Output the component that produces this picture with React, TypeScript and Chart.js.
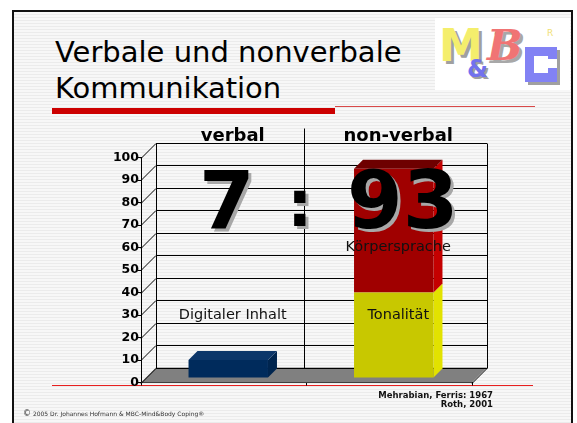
import React, { useEffect, useRef } from "react";
import { Chart, registerables } from "chart.js";

Chart.register(...registerables);

// ---- data ----
const categories = ["verbal", "non-verbal"];
const seriesNames = ["Digitaler Inhalt", "Tonalität", "Körpersprache"];
const digitalValues: (number | null)[] = [8, null];
const toneValues: (number | null)[] = [null, 38];
const bodyValues: (number | null)[] = [null, 55];
const yMin = 0;
const yMax = 100;
const yStep = 10;
const ratioLeft = "7";
const ratioSep = ":";
const ratioRight = "93";
const sourceLines = ["Mehrabian, Ferris: 1967", "Roth, 2001"];

// ---- style ----
const FONT = "'DejaVu Sans', 'Noto Sans', sans-serif";
const faceColors = [
  { front: "#002b5c", top: "#0c3669", side: "#00254f" },
  { front: "#c8c800", top: "#dcdc00", side: "#e2e200" },
  { front: "#a00000", top: "#6e0000", side: "#c40000" },
];
const labelLevels = [30, 30, 60];
const WALL = 15;
const BAR_DEPTH = 9;
const BAR_SHIFT = 4.5;

function poly(ctx: CanvasRenderingContext2D, pts: number[][], fill: boolean, stroke: boolean) {
  ctx.beginPath();
  ctx.moveTo(pts[0][0], pts[0][1]);
  for (let i = 1; i < pts.length; i++) ctx.lineTo(pts[i][0], pts[i][1]);
  ctx.closePath();
  if (fill) ctx.fill();
  if (stroke) ctx.stroke();
}

const threeD = {
  id: "threeD",
  beforeDatasetsDraw(chart: any) {
    const { ctx, chartArea, scales } = chart;
    const { left, right, top, bottom } = chartArea;
    const y = scales.y;
    const x = scales.x;
    ctx.save();
    ctx.lineWidth = 1;
    ctx.strokeStyle = "#000";
    ctx.fillStyle = "#808080";
    poly(ctx, [[left, bottom], [right, bottom], [right + WALL, bottom - WALL], [left + WALL, bottom - WALL]], true, false);
    ctx.beginPath();
    y.ticks.forEach((t: any) => {
      const yy = Math.round(y.getPixelForValue(t.value)) + 0.5;
      ctx.moveTo(left, yy);
      ctx.lineTo(left + WALL, yy - WALL);
      ctx.lineTo(right + WALL, yy - WALL);
    });
    const yt = Math.round(top) + 0.5;
    const yb = Math.round(bottom) + 0.5;
    ctx.moveTo(Math.round(left + WALL) + 0.5, yt - WALL);
    ctx.lineTo(Math.round(left + WALL) + 0.5, yb - WALL);
    ctx.moveTo(Math.round(right + WALL) + 0.5, yt - WALL);
    ctx.lineTo(Math.round(right + WALL) + 0.5, yb - WALL);
    ctx.moveTo(right, yb);
    ctx.lineTo(right + WALL, yb - WALL);
    const mid = Math.round((x.getPixelForValue(0) + x.getPixelForValue(1)) / 2) - 3 + 0.5;
    ctx.moveTo(mid, yt - 2 * WALL);
    ctx.lineTo(mid, yb - WALL);
    ctx.stroke();
    ctx.restore();

    const topIndex = categories.map((_, j) => {
      let t = -1;
      chart.data.datasets.forEach((ds: any, i: number) => {
        if (ds.data[j] != null) t = i;
      });
      return t;
    });
    ctx.save();
    chart.data.datasets.forEach((ds: any, i: number) => {
      const meta = chart.getDatasetMeta(i);
      meta.data.forEach((el: any, j: number) => {
        if (ds.data[j] == null) return;
        const p = el.getProps(["x", "y", "base", "width"], true);
        const l = p.x - p.width / 2 + BAR_SHIFT;
        const r = p.x + p.width / 2 + BAR_SHIFT;
        const t = p.y - BAR_SHIFT;
        const b = p.base - BAR_SHIFT;
        const c = faceColors[i];
        ctx.fillStyle = c.side;
        poly(ctx, [[r, t], [r + BAR_DEPTH, t - BAR_DEPTH], [r + BAR_DEPTH, b - BAR_DEPTH], [r, b]], true, false);
        if (topIndex[j] === i) {
          ctx.fillStyle = c.top;
          poly(ctx, [[l, t], [r, t], [r + BAR_DEPTH, t - BAR_DEPTH], [l + BAR_DEPTH, t - BAR_DEPTH]], true, false);
        }
      });
    });
    ctx.restore();
    ctx.save();
    ctx.translate(BAR_SHIFT, -BAR_SHIFT);
  },
  afterDatasetsDraw(chart: any) {
    const { ctx, chartArea, scales } = chart;
    ctx.restore();
    const x = scales.x;
    const y = scales.y;
    ctx.save();
    ctx.fillStyle = "#000";
    ctx.textAlign = "center";
    ctx.textBaseline = "alphabetic";
    ctx.font = `bold 18px ${FONT}`;
    categories.forEach((c, j) => {
      ctx.fillText(c, x.getPixelForValue(j) + BAR_SHIFT + BAR_DEPTH / 2, chartArea.top - WALL - 2);
    });
    ctx.font = `14.5px ${FONT}`;
    ctx.textBaseline = "middle";
    ctx.fillStyle = "#111";
    chart.data.datasets.forEach((ds: any, i: number) => {
      ds.data.forEach((v: any, j: number) => {
        if (v == null) return;
        ctx.fillText(ds.label, x.getPixelForValue(j) + BAR_SHIFT + BAR_DEPTH / 2, y.getPixelForValue(labelLevels[i]));
      });
    });
    ctx.restore();
  },
};

export default function App() {
  const ref = useRef<HTMLCanvasElement | null>(null);
  useEffect(() => {
    if (!ref.current) return;
    const seriesValues = [digitalValues, toneValues, bodyValues];
    const chart = new Chart(ref.current, {
      type: "bar",
      data: {
        labels: categories,
        datasets: seriesNames.map((name, i) => ({
          label: name,
          data: seriesValues[i],
          backgroundColor: faceColors[i].front,
          borderWidth: 0,
          barPercentage: 0.48,
          categoryPercentage: 1,
        })),
      },
      options: {
        animation: false,
        responsive: false,
        devicePixelRatio: 1,
        layout: { padding: { top: 157.5, left: 111, right: 105, bottom: 36.5 } },
        plugins: { legend: { display: false }, tooltip: { enabled: false } },
        scales: {
          x: {
            stacked: true,
            position: "bottom",
            ticks: { display: false },
            grid: { display: true, drawOnChartArea: false, drawTicks: true, tickLength: 3, color: "#000", offset: true },
            border: { display: true, color: "#000" },
            afterFit: (s: any) => {
              s.height = 4;
            },
          },
          y: {
            stacked: true,
            min: yMin,
            max: yMax,
            ticks: { stepSize: yStep, color: "#000", padding: -1, font: { family: FONT, weight: "bold", size: 12.5 } },
            grid: { drawOnChartArea: false, tickLength: 3, color: "#000" },
            border: { display: true, color: "#000" },
            afterFit: (s: any) => {
              s.width = 30;
            },
          },
        },
      } as any,
      plugins: [threeD],
    });
    return () => chart.destroy();
  }, []);

  const stripes = "repeating-linear-gradient(180deg, #f7f7f7 0px, #f7f7f7 2px, #ebebeb 2px, #ebebeb 3px)";
  const bigStyle: React.CSSProperties = {
    position: "absolute",
    top: 161,
    fontFamily: FONT,
    fontWeight: "bold",
    fontSize: 80,
    lineHeight: "80px",
    color: "#000",
    textShadow: "3px 3px 0 #a8a8a8",
    whiteSpace: "pre",
  };
  const blue = "#8282f4";
  return (
    <div style={{ position: "fixed", left: 0, top: 0, width: 577, height: 423, background: "#fff", overflow: "hidden" }}>
      <div
        style={{
          position: "absolute",
          left: 12,
          top: 10,
          width: 561,
          height: 430,
          boxSizing: "border-box",
          borderTop: "2px solid #111",
          borderLeft: "2px solid #111",
          borderRight: "2px solid #111",
          background: stripes,
        }}
      />
      {/* logo */}
      <div style={{ position: "absolute", left: 435, top: 18, width: 135, height: 72, background: "#fff" }}>
        <span style={{ position: "absolute", left: 4, top: -2, fontFamily: FONT, fontWeight: "bold", fontSize: 44, color: "#f4ee6c", textShadow: "3px 3px 0 #a0a0a0", lineHeight: "60px" }}>M</span>
        <span style={{ position: "absolute", left: 32, top: 36, fontFamily: FONT, fontWeight: "bold", fontSize: 24, color: "#7272ee", textShadow: "2px 2px 0 #a0a0a0", lineHeight: "30px" }}>&amp;</span>
        <span style={{ position: "absolute", left: 52, top: 0, fontFamily: "'DejaVu Serif', serif", fontWeight: "bold", fontStyle: "italic", fontSize: 42, color: "#f07474", textShadow: "3px 3px 0 #a8a8a8", lineHeight: "56px" }}>B</span>
        <div style={{ position: "absolute", left: 90, top: 29, width: 32, height: 35, boxSizing: "border-box", border: `9px solid ${blue}`, borderRight: "none", boxShadow: "3px 3px 0 #a0a0a0" }} />
        <div style={{ position: "absolute", left: 113, top: 29, width: 9, height: 12, background: blue }} />
        <div style={{ position: "absolute", left: 113, top: 50, width: 9, height: 14, background: blue, boxShadow: "3px 3px 0 #a0a0a0" }} />
        <span style={{ position: "absolute", left: 112, top: 10, fontFamily: FONT, fontSize: 9, color: "#f0e070" }}>R</span>
      </div>
      {/* title */}
      <div style={{ position: "absolute", left: 55, top: 34, fontFamily: FONT, fontSize: 29, lineHeight: "36px", color: "#000", whiteSpace: "pre" }}>
        {"Verbale und nonverbale\nKommunikation"}
      </div>
      <div style={{ position: "absolute", left: 52, top: 108, width: 283, height: 6, background: "#cc0000" }} />
      <div style={{ position: "absolute", left: 335, top: 106, width: 200, height: 1, background: "#d84848" }} />
      <div style={{ position: "absolute", left: 52, top: 385, width: 481, height: 1, background: "#e82020" }} />
      <canvas ref={ref} width={577} height={423} style={{ position: "absolute", left: 0, top: 0, width: 577, height: 423 }} />
      <div style={{ ...bigStyle, left: 199 }}>{ratioLeft}</div>
      <div style={{ ...bigStyle, left: 287, fontSize: 64, top: 172, lineHeight: "64px" }}>{ratioSep}</div>
      <div style={{ ...bigStyle, left: 347 }}>{ratioRight}</div>
      <div
        style={{
          position: "absolute",
          right: 84,
          top: 390.5,
          fontFamily: FONT,
          fontWeight: "bold",
          fontSize: 8.5,
          lineHeight: "9px",
          textAlign: "right",
          color: "#111",
          whiteSpace: "pre",
        }}
      >
        {sourceLines.join("\n")}
      </div>
      <div style={{ position: "absolute", left: 23, top: 410, fontFamily: FONT, fontSize: 6, lineHeight: "8px", color: "#333", whiteSpace: "pre" }}>
        <span style={{ fontSize: 8 }}>©</span> 2005 Dr. Johannes Hofmann &amp; MBC-Mind&amp;Body Coping®
      </div>
    </div>
  );
}
